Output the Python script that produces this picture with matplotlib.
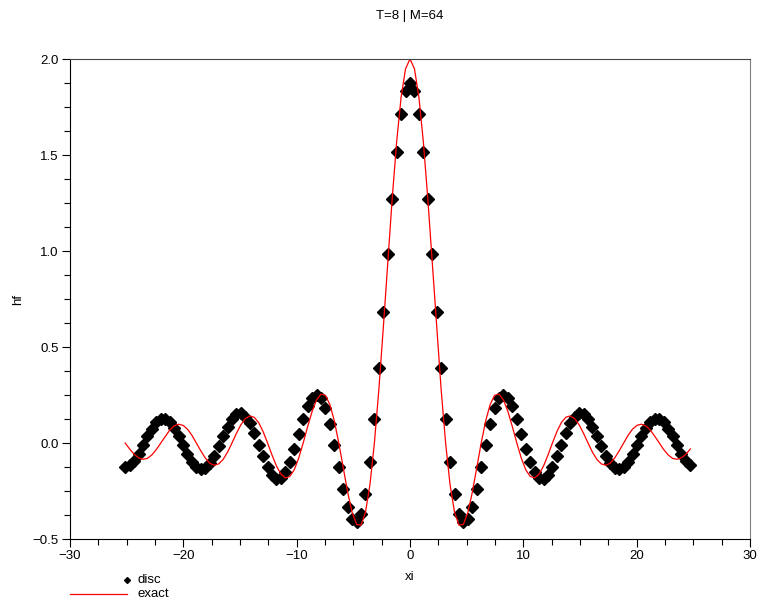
import matplotlib
matplotlib.use("Agg")
import matplotlib.pyplot as plt
from matplotlib.ticker import MultipleLocator
from matplotlib.lines import Line2D

plt.rcParams["font.family"] = ["Liberation Sans", "DejaVu Sans"]
plt.rcParams["font.size"] = 9.5

# points en xi (pas pi/8)
xi = [-25.133, -24.740, -24.347, -23.955, -23.562, -23.169, -22.777, -22.384,
      -21.991, -21.598, -21.206, -20.813, -20.420, -20.028, -19.635, -19.242,
      -18.850, -18.457, -18.064, -17.671, -17.279, -16.886, -16.493, -16.101,
      -15.708, -15.315, -14.923, -14.530, -14.137, -13.744, -13.352, -12.959,
      -12.566, -12.174, -11.781, -11.388, -10.996, -10.603, -10.210, -9.817,
      -9.425, -9.032, -8.639, -8.247, -7.854, -7.461, -7.069, -6.676,
      -6.283, -5.890, -5.498, -5.105, -4.712, -4.320, -3.927, -3.534,
      -3.142, -2.749, -2.356, -1.963, -1.571, -1.178, -0.785, -0.393,
      0.000, 0.393, 0.785, 1.178, 1.571, 1.963, 2.356, 2.749,
      3.142, 3.534, 3.927, 4.320, 4.712, 5.105, 5.498, 5.890,
      6.283, 6.676, 7.069, 7.461, 7.854, 8.247, 8.639, 9.032,
      9.425, 9.817, 10.210, 10.603, 10.996, 11.388, 11.781, 12.174,
      12.566, 12.959, 13.352, 13.744, 14.137, 14.530, 14.923, 15.315,
      15.708, 16.101, 16.493, 16.886, 17.279, 17.671, 18.064, 18.457,
      18.850, 19.242, 19.635, 20.028, 20.420, 20.813, 21.206, 21.598,
      21.991, 22.384, 22.777, 23.169, 23.562, 23.955, 24.347, 24.740]

# transformee discrete
disc = [-0.125, -0.117, -0.093, -0.056, -0.012, 0.034, 0.075, 0.107,
        0.125, 0.126, 0.111, 0.080, 0.038, -0.010, -0.057, -0.097,
        -0.125, -0.137, -0.130, -0.106, -0.067, -0.018, 0.035, 0.085,
        0.125, 0.149, 0.154, 0.138, 0.103, 0.052, -0.008, -0.070,
        -0.125, -0.166, -0.186, -0.182, -0.152, -0.100, -0.031, 0.048,
        0.125, 0.191, 0.236, 0.252, 0.234, 0.182, 0.098, -0.008,
        -0.125, -0.239, -0.335, -0.397, -0.412, -0.369, -0.264, -0.098,
        0.125, 0.391, 0.684, 0.984, 1.269, 1.518, 1.711, 1.833,
        1.875, 1.833, 1.711, 1.518, 1.269, 0.984, 0.684, 0.391,
        0.125, -0.098, -0.264, -0.369, -0.412, -0.397, -0.335, -0.239,
        -0.125, -0.008, 0.098, 0.182, 0.234, 0.252, 0.236, 0.191,
        0.125, 0.048, -0.031, -0.100, -0.152, -0.182, -0.186, -0.166,
        -0.125, -0.070, -0.008, 0.052, 0.103, 0.138, 0.154, 0.149,
        0.125, 0.085, 0.035, -0.018, -0.067, -0.106, -0.130, -0.137,
        -0.125, -0.097, -0.057, -0.010, 0.038, 0.080, 0.111, 0.126,
        0.125, 0.107, 0.075, 0.034, -0.012, -0.056, -0.093, -0.117]

# transformee exacte
exact = [0.000, -0.031, -0.058, -0.077, -0.085, -0.080, -0.062, -0.034,
         0.000, 0.035, 0.067, 0.089, 0.098, 0.092, 0.072, 0.040,
         0.000, -0.041, -0.078, -0.105, -0.116, -0.109, -0.086, -0.048,
         0.000, 0.050, 0.095, 0.127, 0.141, 0.134, 0.106, 0.059,
         0.000, -0.063, -0.120, -0.162, -0.182, -0.174, -0.139, -0.078,
         0.000, 0.085, 0.164, 0.224, 0.255, 0.248, 0.200, 0.115,
         0.000, -0.130, -0.257, -0.362, -0.424, -0.428, -0.360, -0.217,
         0.000, 0.278, 0.600, 0.941, 1.273, 1.568, 1.801, 1.949,
         2.000, 1.949, 1.801, 1.568, 1.273, 0.941, 0.600, 0.278,
         0.000, -0.217, -0.360, -0.428, -0.424, -0.362, -0.257, -0.130,
         0.000, 0.115, 0.200, 0.248, 0.255, 0.224, 0.164, 0.085,
         0.000, -0.078, -0.139, -0.174, -0.182, -0.162, -0.120, -0.063,
         0.000, 0.059, 0.106, 0.134, 0.141, 0.127, 0.095, 0.050,
         0.000, -0.048, -0.086, -0.109, -0.116, -0.105, -0.078, -0.041,
         0.000, 0.040, 0.072, 0.092, 0.098, 0.089, 0.067, 0.035,
         0.000, -0.034, -0.062, -0.080, -0.085, -0.077, -0.058, -0.031]

fig = plt.figure(figsize=(7.61, 6.07), dpi=100)
ax = fig.add_axes([70 / 761, 1 - 539 / 607, 680 / 761, 480 / 607])
ax.plot(xi, disc, "D", color="black", ms=5.8, ls="none")
ax.plot(xi, exact, color="red", lw=0.9)

ax.set_xlim(-30, 30)
ax.set_ylim(-0.5, 2.0)
ax.xaxis.set_major_locator(MultipleLocator(10))
ax.xaxis.set_minor_locator(MultipleLocator(2.5))
ax.yaxis.set_major_locator(MultipleLocator(0.5))
ax.yaxis.set_minor_locator(MultipleLocator(0.125))
ax.yaxis.set_major_formatter(lambda v, p: f"{v:.1f}".replace("-", "\u2212"))
ax.tick_params(which="major", length=6, width=0.8, pad=2)
ax.tick_params(which="minor", length=4.5, width=0.8)
ax.spines["top"].set_color("#444444")
ax.spines["right"].set_color("#808080")

fig.text(410 / 761, 1 - 16 / 607, "T=8 | M=64", ha="center", va="center")
fig.text(410 / 761, 1 - 577 / 607, "xi", ha="center", va="center")
fig.text(18 / 761, 1 - 299 / 607, "hf", ha="center", va="center", rotation=90)

# legende en bas a gauche
fig.add_artist(Line2D([127 / 761], [1 - 580 / 607], marker="D", ms=3, color="black", ls="none"))
fig.add_artist(Line2D([70 / 761, 127 / 761], [1 - 594 / 607] * 2, color="red", lw=0.9))
fig.text(138 / 761, 1 - 580 / 607, "disc", va="center")
fig.text(138 / 761, 1 - 594 / 607, "exact", va="center")

fig.savefig("out.png")
